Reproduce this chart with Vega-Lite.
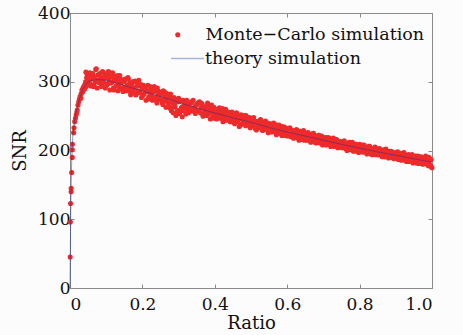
{
  "$schema": "https://vega.github.io/schema/vega-lite/v6.json",
  "width": 362,
  "height": 275,
  "autosize": {"type": "none"},
  "padding": {"left": 70, "top": 13, "right": 31, "bottom": 47},
  "background": "#fcfcfc",
  "config": {
    "font": "DejaVu Serif",
    "view": {"stroke": "#8a8a8a", "strokeWidth": 1},
    "axis": {
      "grid": false,
      "domain": false,
      "tickColor": "#8a8a8a",
      "tickSize": -4,
      "labelFont": "DejaVu Serif",
      "labelFontSize": 17,
      "labelColor": "#111111",
      "titleFont": "DejaVu Serif",
      "titleFontSize": 18,
      "titleFontWeight": "normal",
      "titleColor": "#111111"
    },
    "legend": {
      "labelFont": "DejaVu Serif",
      "labelFontSize": 17.5,
      "labelColor": "#111111",
      "labelLimit": 400
    }
  },
  "datasets": {
    "mc": [
      {"ratio":0.0005,"snr":45},{"ratio":0.001,"snr":96},{"ratio":0.0015,"snr":123},{"ratio":0.003,"snr":140},{"ratio":0.0032,"snr":145},
      {"ratio":0.0046,"snr":168},{"ratio":0.0062,"snr":190},{"ratio":0.0064,"snr":201},{"ratio":0.0066,"snr":209},{"ratio":0.010,"snr":226},
      {"ratio":0.011,"snr":233},{"ratio":0.013,"snr":242},{"ratio":0.015,"snr":247},{"ratio":0.017,"snr":252},{"ratio":0.019,"snr":256},
      {"ratio":0.020,"snr":259},{"ratio":0.022,"snr":266},{"ratio":0.024,"snr":271},{"ratio":0.026,"snr":275},{"ratio":0.028,"snr":279},
      {"ratio":0.030,"snr":276},{"ratio":0.031,"snr":283},{"ratio":0.033,"snr":288},{"ratio":0.035,"snr":285},{"ratio":0.036,"snr":291},
      {"ratio":0.038,"snr":293},{"ratio":0.040,"snr":289},{"ratio":0.041,"snr":296},{"ratio":0.043,"snr":300},{"ratio":0.044,"snr":314},
      {"ratio":0.045,"snr":293},{"ratio":0.046,"snr":306},{"ratio":0.047,"snr":312},{"ratio":0.048,"snr":298},{"ratio":0.049,"snr":309},
      {"ratio":0.050,"snr":302},
      {"ratio":0.0525,"snr":307},{"ratio":0.055,"snr":313},{"ratio":0.0575,"snr":294},{"ratio":0.06,"snr":304},{"ratio":0.0625,"snr":312},
      {"ratio":0.065,"snr":293},{"ratio":0.0675,"snr":307},{"ratio":0.07,"snr":300},{"ratio":0.0725,"snr":319},{"ratio":0.075,"snr":291},
      {"ratio":0.0775,"snr":310},{"ratio":0.08,"snr":299},{"ratio":0.0825,"snr":312},{"ratio":0.085,"snr":304},{"ratio":0.0875,"snr":296},
      {"ratio":0.09,"snr":315},{"ratio":0.0925,"snr":300},{"ratio":0.095,"snr":308},{"ratio":0.0975,"snr":291},{"ratio":0.10,"snr":306},
      {"ratio":0.1025,"snr":297},{"ratio":0.105,"snr":311},{"ratio":0.1075,"snr":303},{"ratio":0.11,"snr":288},{"ratio":0.1125,"snr":307},
      {"ratio":0.115,"snr":299},{"ratio":0.1175,"snr":313},{"ratio":0.12,"snr":291},{"ratio":0.1225,"snr":303},{"ratio":0.125,"snr":308},
      {"ratio":0.1275,"snr":294},{"ratio":0.13,"snr":304},{"ratio":0.1325,"snr":287},{"ratio":0.135,"snr":298},{"ratio":0.1375,"snr":309},
      {"ratio":0.14,"snr":290},{"ratio":0.1425,"snr":299},{"ratio":0.145,"snr":303},{"ratio":0.1475,"snr":292},{"ratio":0.15,"snr":300},
      {"ratio":0.1525,"snr":304},{"ratio":0.155,"snr":287},{"ratio":0.1575,"snr":295},{"ratio":0.16,"snr":306},{"ratio":0.1625,"snr":290},
      {"ratio":0.165,"snr":298},{"ratio":0.1675,"snr":281},{"ratio":0.17,"snr":295},{"ratio":0.1725,"snr":300},{"ratio":0.175,"snr":286},
      {"ratio":0.1775,"snr":291},{"ratio":0.18,"snr":301},{"ratio":0.1825,"snr":281},{"ratio":0.185,"snr":294},{"ratio":0.1875,"snr":287},
      {"ratio":0.19,"snr":302},{"ratio":0.1925,"snr":284},{"ratio":0.195,"snr":294},{"ratio":0.1975,"snr":277},{"ratio":0.20,"snr":290},
      {"ratio":0.2025,"snr":295},{"ratio":0.205,"snr":283},{"ratio":0.2075,"snr":290},{"ratio":0.21,"snr":273},{"ratio":0.2125,"snr":287},
      {"ratio":0.215,"snr":295},{"ratio":0.2175,"snr":278},{"ratio":0.22,"snr":287},{"ratio":0.2225,"snr":282},{"ratio":0.225,"snr":291},
      {"ratio":0.2275,"snr":273},{"ratio":0.23,"snr":285},{"ratio":0.2325,"snr":293},{"ratio":0.235,"snr":277},{"ratio":0.2375,"snr":287},
      {"ratio":0.24,"snr":269},{"ratio":0.2425,"snr":281},{"ratio":0.245,"snr":286},{"ratio":0.2475,"snr":274},{"ratio":0.25,"snr":281},
      {"ratio":0.2525,"snr":284},{"ratio":0.255,"snr":270},{"ratio":0.2575,"snr":287},{"ratio":0.26,"snr":275},{"ratio":0.2625,"snr":280},
      {"ratio":0.265,"snr":263},{"ratio":0.2675,"snr":283},{"ratio":0.27,"snr":270},{"ratio":0.2725,"snr":276},{"ratio":0.275,"snr":264},
      {"ratio":0.2775,"snr":282},{"ratio":0.28,"snr":258},{"ratio":0.2825,"snr":270},{"ratio":0.285,"snr":255},{"ratio":0.2875,"snr":277},
      {"ratio":0.29,"snr":264},{"ratio":0.2925,"snr":251},{"ratio":0.295,"snr":273},{"ratio":0.2975,"snr":258},{"ratio":0.30,"snr":276},
      {"ratio":0.3025,"snr":254},{"ratio":0.305,"snr":272},{"ratio":0.3075,"snr":262},{"ratio":0.31,"snr":249},{"ratio":0.3125,"snr":273},
      {"ratio":0.315,"snr":258},{"ratio":0.3175,"snr":265},{"ratio":0.32,"snr":253},{"ratio":0.3225,"snr":273},{"ratio":0.325,"snr":261},
      {"ratio":0.3275,"snr":255},{"ratio":0.33,"snr":267},{"ratio":0.3325,"snr":257},{"ratio":0.335,"snr":270},{"ratio":0.3375,"snr":261},
      {"ratio":0.34,"snr":273},{"ratio":0.3425,"snr":257},{"ratio":0.345,"snr":264},{"ratio":0.3475,"snr":266},{"ratio":0.35,"snr":258},
      {"ratio":0.3525,"snr":269},{"ratio":0.355,"snr":258},{"ratio":0.3575,"snr":271},{"ratio":0.36,"snr":255},{"ratio":0.3625,"snr":262},
      {"ratio":0.365,"snr":268},{"ratio":0.3675,"snr":250},{"ratio":0.37,"snr":263},{"ratio":0.3725,"snr":258},{"ratio":0.375,"snr":264},
      {"ratio":0.3775,"snr":251},{"ratio":0.38,"snr":269},{"ratio":0.3825,"snr":253},{"ratio":0.385,"snr":260},{"ratio":0.3875,"snr":246},
      {"ratio":0.39,"snr":261},{"ratio":0.3925,"snr":257},{"ratio":0.395,"snr":250},{"ratio":0.3975,"snr":263},{"ratio":0.40,"snr":253},
      {"ratio":0.4025,"snr":260},{"ratio":0.405,"snr":246},{"ratio":0.4075,"snr":256},{"ratio":0.41,"snr":250},{"ratio":0.4125,"snr":262},
      {"ratio":0.415,"snr":247},{"ratio":0.4175,"snr":253},{"ratio":0.42,"snr":259},{"ratio":0.4225,"snr":242},{"ratio":0.425,"snr":255},
      {"ratio":0.4275,"snr":249},{"ratio":0.43,"snr":260},{"ratio":0.4325,"snr":244},{"ratio":0.435,"snr":252},{"ratio":0.4375,"snr":245},
      {"ratio":0.44,"snr":255},{"ratio":0.4425,"snr":242},{"ratio":0.445,"snr":251},{"ratio":0.4475,"snr":256},{"ratio":0.45,"snr":245},
      {"ratio":0.4525,"snr":252},{"ratio":0.455,"snr":239},{"ratio":0.4575,"snr":249},{"ratio":0.46,"snr":255},{"ratio":0.4625,"snr":242},
      {"ratio":0.465,"snr":250},{"ratio":0.4675,"snr":235},{"ratio":0.47,"snr":246},{"ratio":0.4725,"snr":252},{"ratio":0.475,"snr":239},
      {"ratio":0.4775,"snr":247},{"ratio":0.48,"snr":242},{"ratio":0.4825,"snr":251},{"ratio":0.485,"snr":236},{"ratio":0.4875,"snr":248},
      {"ratio":0.49,"snr":239},{"ratio":0.4925,"snr":243},{"ratio":0.495,"snr":248},{"ratio":0.4975,"snr":233},{"ratio":0.50,"snr":243},
      {"ratio":0.5025,"snr":247},{"ratio":0.505,"snr":236},{"ratio":0.5075,"snr":248},{"ratio":0.51,"snr":234},{"ratio":0.5125,"snr":241},
      {"ratio":0.515,"snr":230},{"ratio":0.5175,"snr":242},{"ratio":0.52,"snr":239},{"ratio":0.5225,"snr":233},{"ratio":0.525,"snr":244},
      {"ratio":0.5275,"snr":235},{"ratio":0.53,"snr":242},{"ratio":0.5325,"snr":229},{"ratio":0.535,"snr":239},{"ratio":0.5375,"snr":234},
      {"ratio":0.54,"snr":243},{"ratio":0.5425,"snr":231},{"ratio":0.545,"snr":236},{"ratio":0.5475,"snr":226},{"ratio":0.55,"snr":238},
      {"ratio":0.5525,"snr":230},{"ratio":0.555,"snr":239},{"ratio":0.5575,"snr":227},{"ratio":0.56,"snr":234},{"ratio":0.5625,"snr":240},
      {"ratio":0.565,"snr":228},{"ratio":0.5675,"snr":232},{"ratio":0.57,"snr":223},{"ratio":0.5725,"snr":236},{"ratio":0.575,"snr":228},
      {"ratio":0.5775,"snr":237},{"ratio":0.58,"snr":225},{"ratio":0.5825,"snr":232},{"ratio":0.585,"snr":222},{"ratio":0.5875,"snr":233},
      {"ratio":0.59,"snr":227},{"ratio":0.5925,"snr":234},{"ratio":0.595,"snr":224},{"ratio":0.5975,"snr":229},{"ratio":0.60,"snr":221},
      {"ratio":0.6025,"snr":232},{"ratio":0.605,"snr":223},{"ratio":0.6075,"snr":233},{"ratio":0.61,"snr":220},{"ratio":0.6125,"snr":227},
      {"ratio":0.615,"snr":229},{"ratio":0.6175,"snr":218},{"ratio":0.62,"snr":228},{"ratio":0.6225,"snr":222},{"ratio":0.625,"snr":230},
      {"ratio":0.6275,"snr":219},{"ratio":0.63,"snr":225},{"ratio":0.6325,"snr":215},{"ratio":0.635,"snr":228},{"ratio":0.6375,"snr":222},
      {"ratio":0.64,"snr":225},{"ratio":0.6425,"snr":218},{"ratio":0.645,"snr":229},{"ratio":0.6475,"snr":215},{"ratio":0.65,"snr":222},
      {"ratio":0.6525,"snr":225},{"ratio":0.655,"snr":215},{"ratio":0.6575,"snr":226},{"ratio":0.66,"snr":218},{"ratio":0.6625,"snr":223},
      {"ratio":0.665,"snr":212},{"ratio":0.6675,"snr":224},{"ratio":0.67,"snr":218},{"ratio":0.6725,"snr":225},{"ratio":0.675,"snr":214},
      {"ratio":0.6775,"snr":220},{"ratio":0.68,"snr":211},{"ratio":0.6825,"snr":221},{"ratio":0.685,"snr":214},{"ratio":0.6875,"snr":222},
      {"ratio":0.69,"snr":211},{"ratio":0.6925,"snr":217},{"ratio":0.695,"snr":221},{"ratio":0.6975,"snr":208},{"ratio":0.70,"snr":217},
      {"ratio":0.7025,"snr":212},{"ratio":0.705,"snr":219},{"ratio":0.7075,"snr":208},{"ratio":0.71,"snr":216},{"ratio":0.7125,"snr":219},
      {"ratio":0.715,"snr":209},{"ratio":0.7175,"snr":214},{"ratio":0.72,"snr":206},{"ratio":0.7225,"snr":216},{"ratio":0.725,"snr":210},
      {"ratio":0.7275,"snr":218},{"ratio":0.73,"snr":206},{"ratio":0.7325,"snr":214},{"ratio":0.735,"snr":208},{"ratio":0.7375,"snr":215},
      {"ratio":0.74,"snr":204},{"ratio":0.7425,"snr":212},{"ratio":0.745,"snr":209},{"ratio":0.7475,"snr":213},{"ratio":0.75,"snr":204},
      {"ratio":0.7525,"snr":212},{"ratio":0.755,"snr":204},{"ratio":0.7575,"snr":214},{"ratio":0.76,"snr":206},{"ratio":0.7625,"snr":210},
      {"ratio":0.765,"snr":200},{"ratio":0.7675,"snr":211},{"ratio":0.77,"snr":206},{"ratio":0.7725,"snr":212},{"ratio":0.775,"snr":201},
      {"ratio":0.7775,"snr":207},{"ratio":0.78,"snr":212},{"ratio":0.7825,"snr":199},{"ratio":0.785,"snr":208},{"ratio":0.7875,"snr":202},
      {"ratio":0.79,"snr":209},{"ratio":0.7925,"snr":200},{"ratio":0.795,"snr":206},{"ratio":0.7975,"snr":197},{"ratio":0.80,"snr":209},
      {"ratio":0.8025,"snr":201},{"ratio":0.805,"snr":207},{"ratio":0.8075,"snr":198},{"ratio":0.81,"snr":204},{"ratio":0.8125,"snr":208},
      {"ratio":0.815,"snr":199},{"ratio":0.8175,"snr":203},{"ratio":0.82,"snr":195},{"ratio":0.8225,"snr":205},{"ratio":0.825,"snr":200},
      {"ratio":0.8275,"snr":206},{"ratio":0.83,"snr":196},{"ratio":0.8325,"snr":202},{"ratio":0.835,"snr":194},{"ratio":0.8375,"snr":202},
      {"ratio":0.84,"snr":197},{"ratio":0.8425,"snr":205},{"ratio":0.845,"snr":194},{"ratio":0.8475,"snr":199},{"ratio":0.85,"snr":202},
      {"ratio":0.8525,"snr":194},{"ratio":0.855,"snr":203},{"ratio":0.8575,"snr":195},{"ratio":0.86,"snr":199},{"ratio":0.8625,"snr":191},
      {"ratio":0.865,"snr":200},{"ratio":0.8675,"snr":197},{"ratio":0.87,"snr":191},{"ratio":0.8725,"snr":202},{"ratio":0.875,"snr":193},
      {"ratio":0.8775,"snr":198},{"ratio":0.88,"snr":189},{"ratio":0.8825,"snr":197},{"ratio":0.885,"snr":194},{"ratio":0.8875,"snr":199},
      {"ratio":0.89,"snr":190},{"ratio":0.8925,"snr":197},{"ratio":0.895,"snr":188},{"ratio":0.8975,"snr":194},{"ratio":0.90,"snr":197},
      {"ratio":0.9025,"snr":190},{"ratio":0.905,"snr":198},{"ratio":0.9075,"snr":187},{"ratio":0.91,"snr":193},{"ratio":0.9125,"snr":196},
      {"ratio":0.915,"snr":186},{"ratio":0.9175,"snr":193},{"ratio":0.92,"snr":189},{"ratio":0.9225,"snr":197},{"ratio":0.925,"snr":187},
      {"ratio":0.9275,"snr":193},{"ratio":0.93,"snr":184},{"ratio":0.9325,"snr":191},{"ratio":0.935,"snr":194},{"ratio":0.9375,"snr":184},
      {"ratio":0.94,"snr":191},{"ratio":0.9425,"snr":187},{"ratio":0.945,"snr":194},{"ratio":0.9475,"snr":182},{"ratio":0.95,"snr":191},
      {"ratio":0.9525,"snr":186},{"ratio":0.955,"snr":192},{"ratio":0.9575,"snr":182},{"ratio":0.96,"snr":188},{"ratio":0.9625,"snr":181},
      {"ratio":0.965,"snr":190},{"ratio":0.9675,"snr":183},{"ratio":0.97,"snr":191},{"ratio":0.9725,"snr":185},{"ratio":0.975,"snr":180},
      {"ratio":0.9775,"snr":187},{"ratio":0.98,"snr":181},{"ratio":0.9825,"snr":192},{"ratio":0.985,"snr":183},{"ratio":0.9875,"snr":187},
      {"ratio":0.99,"snr":178},{"ratio":0.9925,"snr":185},{"ratio":0.995,"snr":179},{"ratio":0.9975,"snr":187},{"ratio":1.0,"snr":175},
      {"ratio":0.05125,"snr":312},{"ratio":0.05625,"snr":297},{"ratio":0.06125,"snr":311},{"ratio":0.06625,"snr":295},{"ratio":0.07125,"snr":318},
      {"ratio":0.07625,"snr":302},{"ratio":0.08125,"snr":309},{"ratio":0.08625,"snr":293},{"ratio":0.09125,"snr":306},{"ratio":0.09625,"snr":312},
      {"ratio":0.10125,"snr":295},{"ratio":0.10625,"snr":315},{"ratio":0.11125,"snr":298},{"ratio":0.11625,"snr":308},{"ratio":0.12125,"snr":288},
      {"ratio":0.12625,"snr":301},{"ratio":0.13125,"snr":309},{"ratio":0.13625,"snr":292},{"ratio":0.14125,"snr":303},{"ratio":0.14625,"snr":286},
      {"ratio":0.15125,"snr":303},{"ratio":0.15625,"snr":291},{"ratio":0.16125,"snr":304},{"ratio":0.16625,"snr":286},{"ratio":0.17125,"snr":293},
      {"ratio":0.17625,"snr":300},{"ratio":0.18125,"snr":281},{"ratio":0.18625,"snr":295},{"ratio":0.19125,"snr":285},{"ratio":0.19625,"snr":296},
      {"ratio":0.20125,"snr":280},{"ratio":0.20625,"snr":292},{"ratio":0.21125,"snr":286},{"ratio":0.21625,"snr":275},{"ratio":0.22125,"snr":293},
      {"ratio":0.22625,"snr":279},{"ratio":0.23125,"snr":288},{"ratio":0.23625,"snr":274},{"ratio":0.24125,"snr":291},{"ratio":0.24625,"snr":277},
      {"ratio":0.25125,"snr":282},{"ratio":0.25625,"snr":267},{"ratio":0.26125,"snr":285},{"ratio":0.26625,"snr":272},{"ratio":0.27125,"snr":280},
      {"ratio":0.27625,"snr":262},{"ratio":0.28125,"snr":276},{"ratio":0.28625,"snr":263},{"ratio":0.29125,"snr":270},{"ratio":0.29625,"snr":257},
      {"ratio":0.30125,"snr":271},{"ratio":0.30625,"snr":258},{"ratio":0.31125,"snr":264},{"ratio":0.31625,"snr":270},{"ratio":0.32125,"snr":258},
      {"ratio":0.32625,"snr":267},{"ratio":0.33125,"snr":259},{"ratio":0.33625,"snr":271},{"ratio":0.34125,"snr":261},{"ratio":0.34625,"snr":254},
      {"ratio":0.35125,"snr":267},{"ratio":0.35625,"snr":259},{"ratio":0.36125,"snr":269},{"ratio":0.36625,"snr":253},{"ratio":0.37125,"snr":261},
      {"ratio":0.37625,"snr":254},{"ratio":0.38125,"snr":264},{"ratio":0.38625,"snr":256},{"ratio":0.39125,"snr":266},{"ratio":0.39625,"snr":247},
      {"ratio":0.40125,"snr":257},{"ratio":0.40625,"snr":249},{"ratio":0.41125,"snr":259},{"ratio":0.41625,"snr":250},{"ratio":0.42125,"snr":261},
      {"ratio":0.42625,"snr":244},{"ratio":0.43125,"snr":252},{"ratio":0.43625,"snr":256},{"ratio":0.44125,"snr":244},{"ratio":0.44625,"snr":252},
      {"ratio":0.45125,"snr":241},{"ratio":0.45625,"snr":254},{"ratio":0.46125,"snr":244},{"ratio":0.46625,"snr":248},{"ratio":0.47125,"snr":237},
      {"ratio":0.47625,"snr":250},{"ratio":0.48125,"snr":240},{"ratio":0.48625,"snr":251},{"ratio":0.49125,"snr":237},{"ratio":0.49625,"snr":244},
      {"ratio":0.50125,"snr":238},{"ratio":0.50625,"snr":246},{"ratio":0.51125,"snr":232},{"ratio":0.51625,"snr":242},{"ratio":0.52125,"snr":236},
      {"ratio":0.52625,"snr":245},{"ratio":0.53125,"snr":230},{"ratio":0.53625,"snr":240},{"ratio":0.54125,"snr":232},{"ratio":0.54625,"snr":240},
      {"ratio":0.55125,"snr":228},{"ratio":0.55625,"snr":236},{"ratio":0.56125,"snr":231},{"ratio":0.56625,"snr":238},{"ratio":0.57125,"snr":225},
      {"ratio":0.57625,"snr":232},{"ratio":0.58125,"snr":226},{"ratio":0.58625,"snr":235},{"ratio":0.59125,"snr":222},{"ratio":0.59625,"snr":231},
      {"ratio":0.60125,"snr":225},{"ratio":0.60625,"snr":232},{"ratio":0.61125,"snr":221},{"ratio":0.61625,"snr":227},{"ratio":0.62125,"snr":220},
      {"ratio":0.62625,"snr":230},{"ratio":0.63125,"snr":221},{"ratio":0.63625,"snr":227},{"ratio":0.64125,"snr":216},{"ratio":0.64625,"snr":224},
      {"ratio":0.65125,"snr":218},{"ratio":0.65625,"snr":225},{"ratio":0.66125,"snr":215},{"ratio":0.66625,"snr":221},{"ratio":0.67125,"snr":224},
      {"ratio":0.67625,"snr":212},{"ratio":0.68125,"snr":218},{"ratio":0.68625,"snr":222},{"ratio":0.69125,"snr":212},{"ratio":0.69625,"snr":218},
      {"ratio":0.70125,"snr":210},{"ratio":0.70625,"snr":218},{"ratio":0.71125,"snr":212},{"ratio":0.71625,"snr":218},{"ratio":0.72125,"snr":207},
      {"ratio":0.72625,"snr":214},{"ratio":0.73125,"snr":208},{"ratio":0.73625,"snr":216},{"ratio":0.74125,"snr":206},{"ratio":0.74625,"snr":212},
      {"ratio":0.75125,"snr":207},{"ratio":0.75625,"snr":213},{"ratio":0.76125,"snr":203},{"ratio":0.76625,"snr":209},{"ratio":0.77125,"snr":204},
      {"ratio":0.77625,"snr":210},{"ratio":0.78125,"snr":202},{"ratio":0.78625,"snr":207},{"ratio":0.79125,"snr":199},{"ratio":0.79625,"snr":208},
      {"ratio":0.80125,"snr":200},{"ratio":0.80625,"snr":208},{"ratio":0.81125,"snr":198},{"ratio":0.81625,"snr":204},{"ratio":0.82125,"snr":199},
      {"ratio":0.82625,"snr":206},{"ratio":0.83125,"snr":195},{"ratio":0.83625,"snr":203},{"ratio":0.84125,"snr":196},{"ratio":0.84625,"snr":202},
      {"ratio":0.85125,"snr":194},{"ratio":0.85625,"snr":200},{"ratio":0.86125,"snr":195},{"ratio":0.86625,"snr":201},{"ratio":0.87125,"snr":191},
      {"ratio":0.87625,"snr":196},{"ratio":0.88125,"snr":199},{"ratio":0.88625,"snr":190},{"ratio":0.89125,"snr":196},{"ratio":0.89625,"snr":190},
      {"ratio":0.90125,"snr":197},{"ratio":0.90625,"snr":188},{"ratio":0.91125,"snr":194},{"ratio":0.91625,"snr":189},{"ratio":0.92125,"snr":196},
      {"ratio":0.92625,"snr":185},{"ratio":0.93125,"snr":192},{"ratio":0.93625,"snr":186},{"ratio":0.94125,"snr":193},{"ratio":0.94625,"snr":184},
      {"ratio":0.95125,"snr":191},{"ratio":0.95625,"snr":185},{"ratio":0.96125,"snr":192},{"ratio":0.96625,"snr":181},{"ratio":0.97125,"snr":188},
      {"ratio":0.97625,"snr":182},{"ratio":0.98125,"snr":189},{"ratio":0.98625,"snr":180},{"ratio":0.99125,"snr":190},{"ratio":0.99625,"snr":177}
    ],
    "theory": [
      {"ratio":0,"snr":0},{"ratio":0.001,"snr":60},{"ratio":0.002,"snr":110},{"ratio":0.003,"snr":145},{"ratio":0.004,"snr":170},
      {"ratio":0.005,"snr":190},{"ratio":0.0065,"snr":208},{"ratio":0.008,"snr":222},{"ratio":0.011,"snr":235},{"ratio":0.014,"snr":247},
      {"ratio":0.017,"snr":256},{"ratio":0.020,"snr":263},{"ratio":0.025,"snr":273},{"ratio":0.031,"snr":282},{"ratio":0.035,"snr":288},
      {"ratio":0.040,"snr":293},{"ratio":0.045,"snr":297},{"ratio":0.050,"snr":299.5},{"ratio":0.055,"snr":301},{"ratio":0.06,"snr":302},
      {"ratio":0.07,"snr":303},{"ratio":0.08,"snr":303},{"ratio":0.09,"snr":302.7},{"ratio":0.10,"snr":302},{"ratio":0.12,"snr":299.5},
      {"ratio":0.15,"snr":294.5},{"ratio":0.20,"snr":286.5},{"ratio":0.25,"snr":278.5},{"ratio":0.30,"snr":270},{"ratio":0.35,"snr":262},
      {"ratio":0.40,"snr":254.5},{"ratio":0.45,"snr":247.5},{"ratio":0.50,"snr":241},{"ratio":0.55,"snr":233.5},{"ratio":0.60,"snr":227},
      {"ratio":0.65,"snr":221},{"ratio":0.70,"snr":215},{"ratio":0.75,"snr":209},{"ratio":0.80,"snr":203.5},{"ratio":0.85,"snr":198},
      {"ratio":0.90,"snr":193},{"ratio":0.95,"snr":188},{"ratio":1.0,"snr":183}
    ]
  },
  "layer": [
    {
      "data": {"name": "mc"},
      "mark": {"type": "circle", "size": 26, "opacity": 1},
      "encoding": {
        "x": {"field": "ratio", "type": "quantitative", "scale": {"domain": [0, 1], "nice": false},
              "axis": {"orient": "bottom", "values": [0, 0.2, 0.4, 0.6, 0.8, 1.0], "labelExpr": "datum.value == 0 ? '0' : format(datum.value, '.1f')", "labelPadding": 12, "title": "Ratio", "titlePadding": 2}},
        "y": {"field": "snr", "type": "quantitative", "scale": {"domain": [0, 400], "nice": false},
              "axis": {"orient": "left", "values": [0, 100, 200, 300, 400], "labelPadding": 4, "title": "SNR", "titlePadding": 8}},
        "color": {"datum": "Monte−Carlo simulation", "type": "nominal",
          "scale": {"domain": ["Monte−Carlo simulation"], "range": ["#ee2a2a"]},
          "legend": {"title": null, "orient": "none", "legendX": 99, "legendY": 13,
                     "symbolType": "circle", "symbolSize": 26, "labelOffset": 19}}
      }
    },
    {
      "data": {"name": "theory"},
      "mark": {"type": "line", "color": "#1f2f8f", "strokeWidth": 1, "strokeOpacity": 0.5, "interpolate": "monotone"},
      "encoding": {
        "x": {"field": "ratio", "type": "quantitative", "scale": {"domain": [0, 1], "nice": false},
              "axis": {"orient": "top", "values": [0, 0.2, 0.4, 0.6, 0.8, 1.0], "labels": false, "title": null}},
        "y": {"field": "snr", "type": "quantitative", "scale": {"domain": [0, 400], "nice": false},
              "axis": {"orient": "right", "values": [0, 100, 200, 300, 400], "labels": false, "title": null}},
        "strokeDash": {"datum": "theory simulation", "type": "nominal",
          "scale": {"domain": ["theory simulation"], "range": [[1, 0]]},
          "legend": {"title": null, "orient": "none", "legendX": 100, "legendY": 28,
                     "symbolType": "stroke", "symbolSize": 1089, "symbolStrokeColor": "#a9b3dc", "symbolStrokeWidth": 1.3, "symbolOpacity": 1, "labelOffset": 0}}
      }
    }
  ],
  "resolve": {"axis": {"x": "independent", "y": "independent"}}
}
